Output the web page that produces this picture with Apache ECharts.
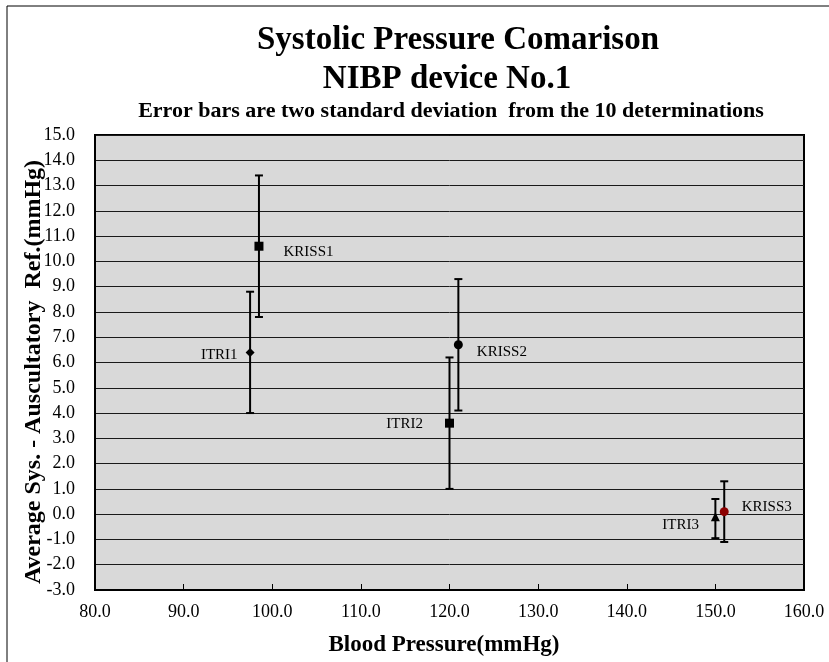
<!DOCTYPE html>
<html>
<head>
<meta charset="utf-8">
<script src="https://cdn.jsdelivr.net/npm/echarts@6/dist/echarts.min.js"></script>
<style>
html,body{margin:0;padding:0;background:#fff;}
#chart{width:829px;height:662px;}
</style>
</head>
<body>
<div id="chart"></div>
<script>
// ---- data ----
var pointNames = ['ITRI1', 'KRISS1', 'ITRI2', 'KRISS2', 'ITRI3', 'KRISS3'];
var pressureX  = [97.5, 98.5, 120.0, 121.0, 150.0, 151.0];
var meanDiffY  = [6.4, 10.6, 3.6, 6.7, -0.1, 0.1];
var errLow     = [4.0, 7.8, 1.0, 4.1, -0.95, -1.1];
var errHigh    = [8.8, 13.4, 6.2, 9.3, 0.6, 1.3];
var xTickMin = 80, xTickMax = 160, xTickStep = 10;
var yTickMin = -3, yTickMax = 15, yTickStep = 1;

// ---- styles (separate from data) ----
var pointStyles = [
  {symbol: 'diamond',  size: 9,  color: '#000', pos: 'left',  dist: 8,  off: [0, 3]},
  {symbol: 'rect',     size: 9,  color: '#000', pos: 'right', dist: 20, off: [0, 6]},
  {symbol: 'rect',     size: 9,  color: '#000', pos: 'left',  dist: 22, off: [0, 1]},
  {symbol: 'circle',   size: 9,  color: '#000', pos: 'right', dist: 14, off: [0, 7]},
  {symbol: 'triangle', size: 9,  color: '#000', pos: 'left',  dist: 12, off: [0, 8]},
  {symbol: 'circle',   size: 9,  color: '#8b0000', pos: 'right', dist: 13, off: [0, -5]}
];
var serif = '"Liberation Serif", "Times New Roman", serif';

var chart = echarts.init(document.getElementById('chart'), null, {renderer: 'canvas'});

var errData = pressureX.map(function (x, i) { return [x, errLow[i], errHigh[i]]; });

var series = [{
  type: 'custom',
  name: 'errorbars',
  data: errData,
  encode: {x: 0, y: [1, 2]},
  z: 3,
  renderItem: function (params, api) {
    var x = api.value(0);
    var top = api.coord([x, api.value(2)]);
    var bot = api.coord([x, api.value(1)]);
    var hw = 4;
    var st = {stroke: '#000', lineWidth: 2};
    return {
      type: 'group',
      children: [
        {type: 'line', shape: {x1: top[0], y1: top[1], x2: bot[0], y2: bot[1]}, style: st},
        {type: 'line', shape: {x1: top[0] - hw, y1: top[1], x2: top[0] + hw, y2: top[1]}, style: st},
        {type: 'line', shape: {x1: bot[0] - hw, y1: bot[1], x2: bot[0] + hw, y2: bot[1]}, style: st}
      ]
    };
  }
}];

pointNames.forEach(function (name, i) {
  var s = pointStyles[i];
  series.push({
    type: 'scatter',
    name: name,
    z: 5,
    symbol: s.symbol,
    symbolSize: s.size,
    itemStyle: {color: s.color, opacity: 1},
    data: [[pressureX[i], meanDiffY[i]]],
    label: {
      show: true,
      formatter: name,
      position: s.pos,
      distance: s.dist,
      offset: s.off,
      color: '#000',
      fontFamily: serif,
      fontSize: 15
    },
    emphasis: {disabled: true}
  });
});

var option = {
  animation: false,
  backgroundColor: '#fff',
  grid: {
    left: 95, right: 25, top: 135, bottom: 72,
    show: true, backgroundColor: '#d9d9d9', borderColor: '#000', borderWidth: 2
  },
  xAxis: {
    type: 'value',
    min: xTickMin, max: xTickMax, interval: xTickStep,
    axisLine: {show: true, onZero: false, lineStyle: {color: '#000', width: 2}},
    axisTick: {show: true, inside: true, length: 6, lineStyle: {color: '#000', width: 1}},
    splitLine: {show: false},
    axisLabel: {
      margin: 13, color: '#000', fontFamily: serif, fontSize: 18,
      formatter: function (v) { return v.toFixed(1); }
    }
  },
  yAxis: {
    type: 'value',
    min: yTickMin, max: yTickMax, interval: yTickStep,
    axisLine: {show: true, onZero: false, lineStyle: {color: '#000', width: 2}},
    axisTick: {show: false},
    splitLine: {show: true, lineStyle: {color: '#1a1a1a', width: 1}},
    axisLabel: {
      margin: 20, color: '#000', fontFamily: serif, fontSize: 18,
      formatter: function (v) { return v.toFixed(1); }
    }
  },
  graphic: [
    {type: 'line', shape: {x1: 7, y1: 6, x2: 7, y2: 662}, style: {stroke: '#000', lineWidth: 1}, silent: true},
    {type: 'line', shape: {x1: 7, y1: 6, x2: 829, y2: 6}, style: {stroke: '#000', lineWidth: 1}, silent: true},
    {type: 'text', x: 458, y: 40, silent: true,
      style: {text: 'Systolic Pressure Comarison', textAlign: 'center', textVerticalAlign: 'middle',
        font: 'bold 33px ' + serif, fill: '#000'}},
    {type: 'text', x: 447, y: 79, silent: true,
      style: {text: 'NIBP device No.1', textAlign: 'center', textVerticalAlign: 'middle',
        font: 'bold 33px ' + serif, fill: '#000'}},
    {type: 'text', x: 451, y: 111, silent: true,
      style: {text: 'Error bars are two standard deviation  from the 10 determinations', textAlign: 'center', textVerticalAlign: 'middle',
        font: 'bold 22px ' + serif, fill: '#000'}},
    {type: 'text', x: 444, y: 645, silent: true,
      style: {text: 'Blood Pressure(mmHg)', textAlign: 'center', textVerticalAlign: 'middle',
        font: 'bold 23px ' + serif, fill: '#000'}},
    {type: 'text', x: 34, y: 372, rotation: Math.PI / 2, silent: true,
      style: {text: 'Average Sys. - Auscultatory  Ref.(mmHg)', textAlign: 'center', textVerticalAlign: 'middle',
        font: 'bold 24px ' + serif, fill: '#000'}}
  ],
  series: series
};
chart.setOption(option);
</script>
</body>
</html>
